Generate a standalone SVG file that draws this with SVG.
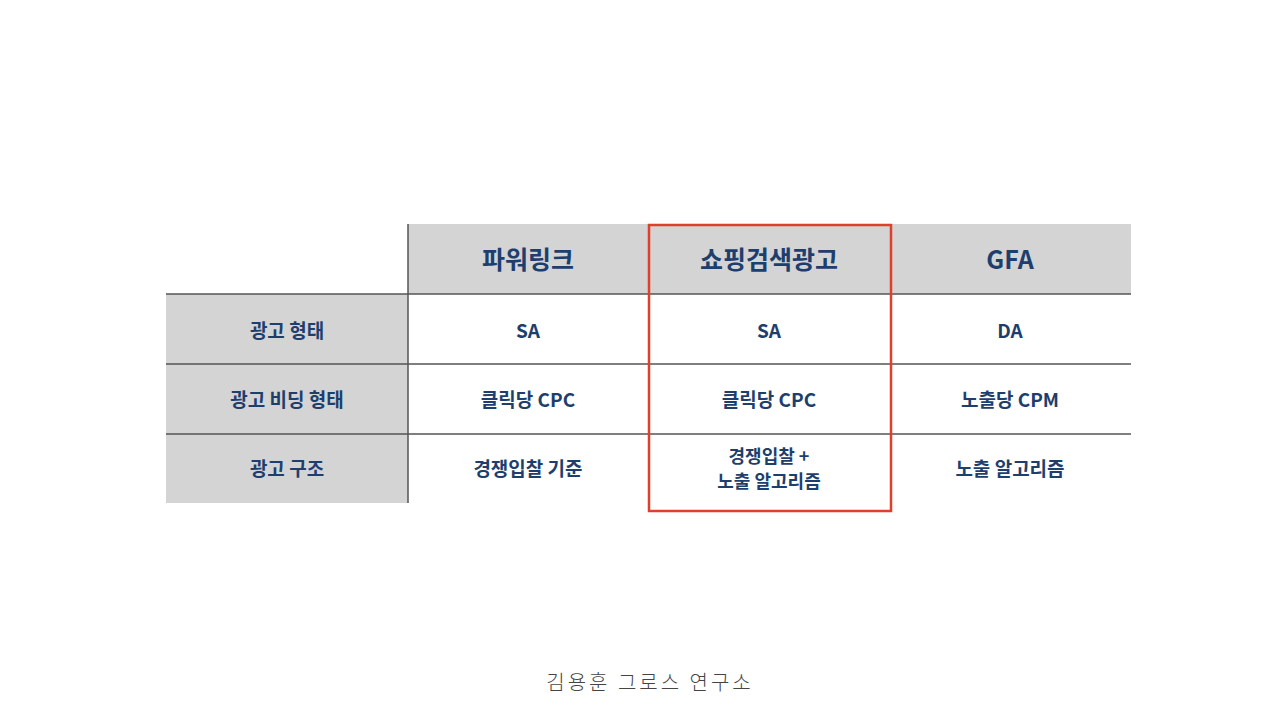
<svg xmlns="http://www.w3.org/2000/svg" width="1280" height="724" viewBox="0 0 1280 724">
<style>
.t{font-family:"Noto Sans CJK KR","Noto Sans",sans-serif;font-weight:bold;fill:#1e3f6d;text-anchor:middle;dominant-baseline:central}
.h{font-size:25px}.c{font-size:19px}.s{font-size:18px}
.g{fill:#d4d4d4}
.ln{stroke:#555;stroke-width:1.5;fill:none}
</style>
<rect width="1280" height="724" fill="#fff"/>
<g id="header">
<rect class="g" x="408" y="224" width="723" height="70"/>
<text class="t h" x="528" y="258">파워링크</text>
<text class="t h" x="769" y="258">쇼핑검색광고</text>
<text class="t h" x="1010" y="258">GFA</text>
</g>
<g id="row1">
<rect class="g" x="166" y="294" width="242" height="70"/>
<text class="t c" x="287" y="329">광고 형태</text>
<text class="t c" x="528" y="329">SA</text>
<text class="t c" x="769" y="329">SA</text>
<text class="t c" x="1010" y="329">DA</text>
</g>
<g id="row2">
<rect class="g" x="166" y="364" width="242" height="70"/>
<text class="t c" x="287" y="398">광고 비딩 형태</text>
<text class="t c" x="528" y="398">클릭당 CPC</text>
<text class="t c" x="769" y="398">클릭당 CPC</text>
<text class="t c" x="1010" y="398">노출당 CPM</text>
</g>
<g id="row3">
<rect class="g" x="166" y="434" width="242" height="69"/>
<text class="t c" x="287" y="467">광고 구조</text>
<text class="t c" x="528" y="467">경쟁입찰 기준</text>
<text class="t s" x="769" y="455">경쟁입찰 +</text>
<text class="t s" x="769" y="480">노출 알고리즘</text>
<text class="t c" x="1010" y="467">노출 알고리즘</text>
</g>
<g id="lines">
<line class="ln" x1="166" y1="294" x2="1131" y2="294"/>
<line class="ln" x1="166" y1="364" x2="1131" y2="364"/>
<line class="ln" x1="166" y1="434" x2="1131" y2="434"/>
<line class="ln" x1="408" y1="224" x2="408" y2="503"/>
<rect x="649" y="225" width="242" height="286" fill="none" stroke="#e0402a" stroke-width="2.5"/>
</g>
<text x="650" y="690" font-family="Noto Sans CJK KR,sans-serif" font-size="20" fill="#444" text-anchor="middle" letter-spacing="3" font-weight="300">김용훈 그로스 연구소</text>
</svg>
